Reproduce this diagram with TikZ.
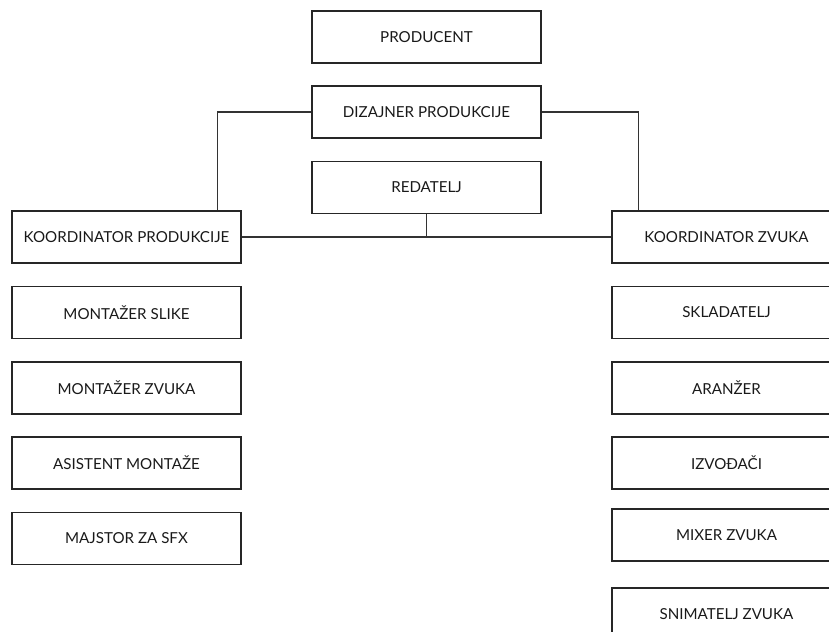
\documentclass[tikz,border=0pt]{standalone}
\usepackage{fontspec}
\setmainfont{Lato}
\begin{document}
\begin{tikzpicture}[x=0.75pt,y=-0.75pt,
  box/.style={draw=black!85,line width=0.85pt,rectangle,minimum width=171.75pt,minimum height=39pt,inner sep=0pt,font=\fontsize{11.35}{13}\selectfont,text=black!90},
  conn/.style={draw=black!80,line width=0.85pt}]
\useasboundingbox (0,0) rectangle (829,632);
\clip (0,0) rectangle (829,632);
\node[box] (prod) at (426.5,37) {PRODUCENT};
\node[box] (diz) at (426.5,112) {DIZAJNER PRODUKCIJE};
\node[box] (red) at (426.5,187.5) {REDATELJ};
\node[box] (kp) at (126.5,237) {KOORDINATOR PRODUKCIJE};
\node[box] (kz) at (726.5,237) {KOORDINATOR ZVUKA};
\node[box] (ms) at (126.5,312.5) {MONTAŽER SLIKE};
\node[box] (mz) at (126.5,388) {MONTAŽER ZVUKA};
\node[box] (am) at (126.5,463) {ASISTENT MONTAŽE};
\node[box] (sfx) at (126.5,538.5) {MAJSTOR ZA SFX};
\node[box] (skl) at (726.5,312.5) {SKLADATELJ};
\node[box] (ara) at (726.5,388) {ARANŽER};
\node[box] (izv) at (726.5,463) {IZVOĐAČI};
\node[box] (mix) at (726.5,535) {MIXER ZVUKA};
\node[box] (sni) at (726.5,614) {SNIMATELJ ZVUKA};
\draw[conn] (diz.west) -| ([xshift=-18pt]kp.north east);
\draw[conn] (diz.east) -| ([xshift=20.25pt]kz.north west);
\draw[conn] (kp.east) -- (kz.west);
\draw[conn] (red.south) -- (red.south |- kp.east);
\end{tikzpicture}
\end{document}
